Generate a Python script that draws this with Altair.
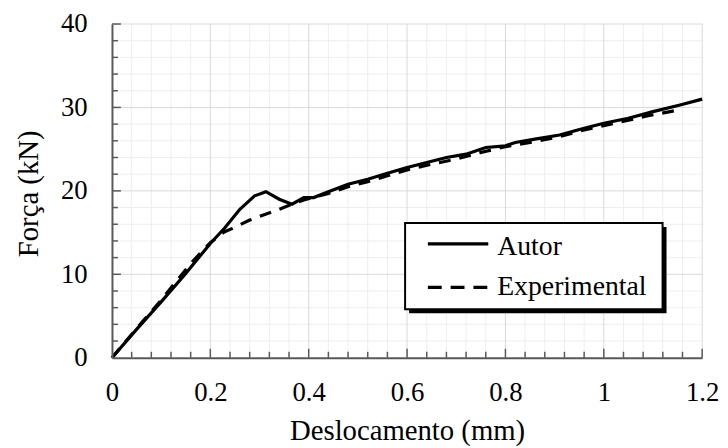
import altair as alt
import pandas as pd

# ---- data ----
autor_x = [0, 0.05, 0.1, 0.15, 0.2, 0.23, 0.26, 0.29, 0.313, 0.34, 0.366, 0.39, 0.41, 0.44,
           0.48, 0.52, 0.56, 0.6, 0.64, 0.68, 0.72, 0.76, 0.8, 0.82, 0.86, 0.91, 0.96, 1.0,
           1.05, 1.1, 1.155, 1.2]
autor_y = [0, 3.4, 6.7, 10.1, 13.7, 15.6, 17.8, 19.4, 19.9, 19.0, 18.4, 19.2, 19.2, 19.9,
           20.8, 21.4, 22.1, 22.8, 23.4, 24.0, 24.4, 25.2, 25.4, 25.8, 26.2, 26.7, 27.5, 28.1,
           28.7, 29.5, 30.3, 31.0]

exp_x = [0, 0.03, 0.06, 0.1, 0.13, 0.16, 0.2, 0.229, 0.245, 0.28, 0.336, 0.366, 0.39, 0.44,
         0.48, 0.52, 0.56, 0.6, 0.65, 0.7, 0.75, 0.8, 0.86, 0.91, 0.96, 1.03, 1.09, 1.135, 1.16]
exp_y = [0, 2.1, 4.2, 6.9, 9.1, 11.3, 13.8, 15.1, 15.5, 16.5, 17.7, 18.4, 18.9, 19.7,
         20.5, 21.1, 21.8, 22.5, 23.2, 23.8, 24.6, 25.3, 25.9, 26.5, 27.3, 28.2, 29.0, 29.5, 29.8]

x_labels = [0, 0.2, 0.4, 0.6, 0.8, 1.0, 1.2]
y_labels = [0, 10, 20, 30, 40]
x_major = [0.2, 0.4, 0.6, 0.8, 1.0, 1.2]
x_minor = [0.04, 0.08, 0.12, 0.16, 0.24, 0.28, 0.32, 0.36, 0.44, 0.48, 0.52, 0.56,
           0.64, 0.68, 0.72, 0.76, 0.84, 0.88, 0.92, 0.96, 1.04, 1.08, 1.12, 1.16]
y_major = [10, 20, 30, 40]
y_minor = [2, 4, 6, 8, 12, 14, 16, 18, 22, 24, 26, 28, 32, 34, 36, 38]

series_names = ["Autor", "Experimental"]

FONT = "Liberation Serif"
W, H = 596, 337
AXC = "#595959"
LW = 3.2
TFS = 29

xs = alt.Scale(domain=[0, 1.2], nice=False, zero=False)
ys = alt.Scale(domain=[0, 40], nice=False, zero=False)

x_axis = alt.Axis(values=x_labels, title="Deslocamento (mm)", grid=False, ticks=False, tickSize=0,
                  format="~r", domainColor=AXC, domainWidth=2, labelFont=FONT, labelFontSize=27,
                  labelColor="black", labelBaseline="alphabetic", labelPadding=43,
                  labelFlush=False, labelOverlap=False, titleFont=FONT, titleFontSize=TFS,
                  titleFontWeight="normal", titleColor="black", titleBaseline="alphabetic",
                  titleY=83, titleX=W / 2, zindex=1)
y_axis = alt.Axis(values=y_labels, title="Força (kN)", grid=False, ticks=False, tickSize=0,
                  format="d", domainColor=AXC, domainWidth=2, labelFont=FONT, labelFontSize=27,
                  labelColor="black", labelPadding=25, labelFlush=False, labelOverlap=False,
                  titleFont=FONT, titleFontSize=TFS, titleFontWeight="normal", titleColor="black",
                  titleBaseline="alphabetic", titleX=-75, titleY=171, titleAngle=270, zindex=1)

def X(field):
    return alt.X(field, type="quantitative", scale=xs, axis=x_axis)

def Y(field):
    return alt.Y(field, type="quantitative", scale=ys, axis=y_axis)

df_autor = pd.DataFrame({"x": autor_x, "y": autor_y})
df_exp = pd.DataFrame({"x": exp_x, "y": exp_y})

def vrules(vals, color, width):
    return alt.Chart(pd.DataFrame({"v": vals})).mark_rule(color=color, strokeWidth=width).encode(
        x=X("v"))

def hrules(vals, color, width):
    return alt.Chart(pd.DataFrame({"v": vals})).mark_rule(color=color, strokeWidth=width).encode(
        y=Y("v"))

def xticks(vals, length):
    return alt.Chart(pd.DataFrame({"v": vals})).mark_rule(color=AXC, strokeWidth=1.5).encode(
        x=X("v"), y=alt.value(H), y2=alt.value(H - length))

def yticks(vals, length):
    return alt.Chart(pd.DataFrame({"v": vals})).mark_rule(color=AXC, strokeWidth=1.5).encode(
        y=Y("v"), x=alt.value(0), x2=alt.value(length))

line_autor = alt.Chart(df_autor).mark_line(color="black", strokeWidth=LW).encode(
    x=X("x"), y=Y("y"))
line_exp = alt.Chart(df_exp).mark_line(color="black", strokeWidth=LW, strokeDash=[12, 9]).encode(
    x=X("x"), y=Y("y"))

# ---- legend (drawn manually) ----
one = pd.DataFrame({"a": [0]})
LX0, LX1, LY0, LY1 = 296, 556, 201, 288
shadow = alt.Chart(one).mark_rect(color="black").encode(
    x=alt.value(LX0 + 4), x2=alt.value(LX1 + 4), y=alt.value(LY0 + 4), y2=alt.value(LY1 + 4))
box = alt.Chart(one).mark_rect(fill="white", stroke="black", strokeWidth=2).encode(
    x=alt.value(LX0), x2=alt.value(LX1), y=alt.value(LY0), y2=alt.value(LY1))
leg_solid = alt.Chart(one).mark_rule(color="black", strokeWidth=LW).encode(
    x=alt.value(319), x2=alt.value(380), y=alt.value(222))
leg_dash = alt.Chart(one).mark_rule(color="black", strokeWidth=LW, strokeDash=[14, 9]).encode(
    x=alt.value(319), x2=alt.value(380), y=alt.value(266))
leg_t1 = alt.Chart(one).mark_text(text=series_names[0], font=FONT, fontSize=28, align="left",
                                  baseline="alphabetic", color="black").encode(
    x=alt.value(389), y=alt.value(233))
leg_t2 = alt.Chart(one).mark_text(text=series_names[1], font=FONT, fontSize=28, align="left",
                                  baseline="alphabetic", color="black").encode(
    x=alt.value(389), y=alt.value(274))

chart = alt.layer(
    vrules(x_minor, "#eeeeee", 1), hrules(y_minor, "#eeeeee", 1),
    vrules(x_major, "#d9d9d9", 1), hrules(y_major, "#d9d9d9", 1),
    xticks(x_minor, 6), xticks(x_major, 9), yticks(y_minor, 6), yticks(y_major, 9),
    line_exp, line_autor,
    shadow, box, leg_solid, leg_dash, leg_t1, leg_t2,
).properties(
    width=W, height=H,
    autosize=alt.AutoSizeParams(type="none"),
    padding={"left": 105, "top": 14, "right": 18, "bottom": 90},
    background="white",
).configure(font=FONT).configure_view(stroke=None).configure_axis(
    labelFont=FONT, titleFont=FONT, labelFontSize=27, titleFontSize=TFS,
    titleFontWeight="normal", labelColor="black", titleColor="black",
).configure_text(font=FONT)

chart.save("out.html", embed_options={"renderer": "svg", "actions": False})
